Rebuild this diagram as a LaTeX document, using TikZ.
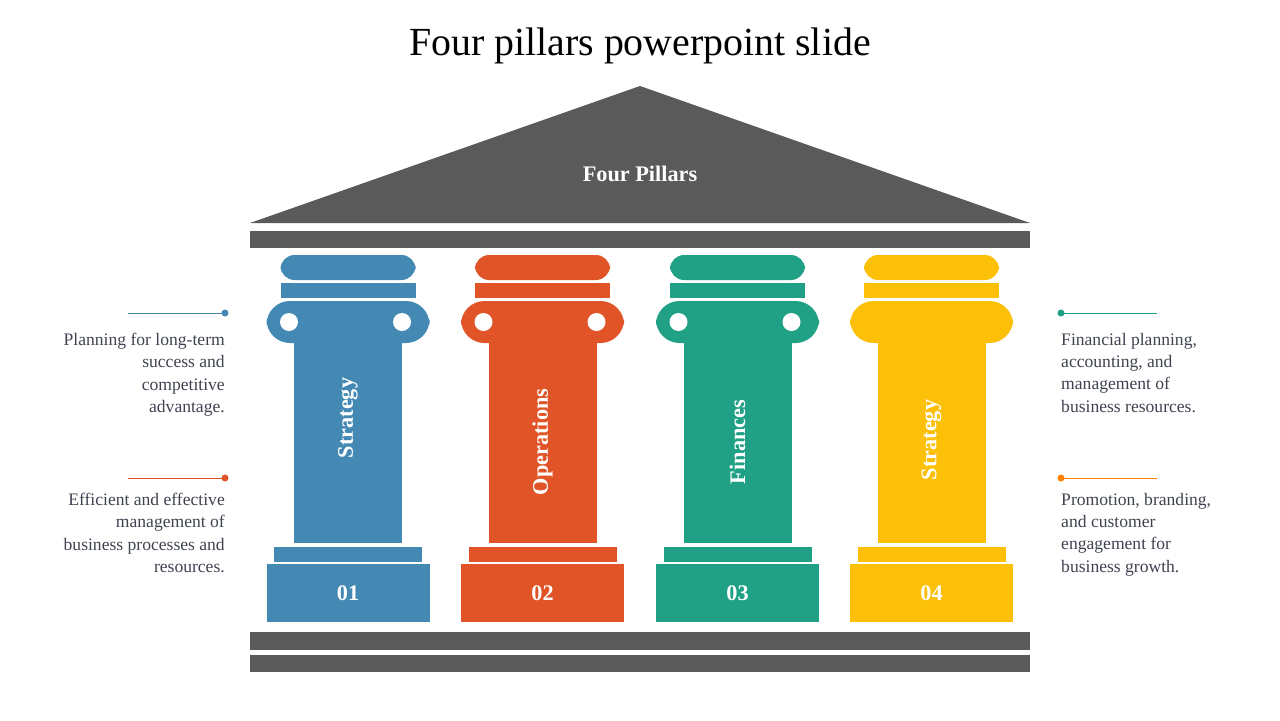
\documentclass[tikz,border=0pt]{standalone}
\usepackage{fontspec}
\setmainfont{Liberation Serif}
\definecolor{roofgray}{HTML}{5A5A5A}
\definecolor{pblue}{HTML}{4389B4}
\definecolor{porange}{HTML}{E05427}
\definecolor{pteal}{HTML}{20A185}
\definecolor{pyellow}{HTML}{FCC008}
\definecolor{txtgray}{HTML}{3F4350}
\tikzset{
    desc/.style={font=\fontsize{15}{19}\selectfont, text=txtgray, inner sep=0pt},
    plabel/.style={font=\fontsize{19}{22}\selectfont\bfseries, text=white, inner sep=0pt},
}
\begin{document}
\begin{tikzpicture}[x=0.03cm, y=-0.03cm]
    \useasboundingbox (0, 0) rectangle (1280, 720);
    \node (title) at (640, 46) {\fontsize{34}{38}\selectfont Four pillars powerpoint slide};
    % roof and beams
    \fill[roofgray] (250, 223) -- (640, 86) -- (1030, 223) -- cycle;
    \fill[roofgray] (250, 231) rectangle (1030, 248);
    \fill[roofgray] (250, 632) rectangle (1030, 650);
    \fill[roofgray] (250, 655) rectangle (1030, 672);
    \node[plabel] (roof) at (640, 174) {Four Pillars};
    % pillars
    \foreach \cx/\col/\lbl/\num/\ly/\holes in {348/pblue/Strategy/01/418/1, 542.5/porange/Operations/02/442/1, 737.5/pteal/Finances/03/442/1, 931.5/pyellow/Strategy/04/440/0} {
        \fill[\col, rounded corners=12] (\cx-67.5, 255) rectangle (\cx+67.5, 280);
        \fill[\col] (\cx-67.5, 283) rectangle (\cx+67.5, 298);
        \fill[\col, rounded corners=20] (\cx-81.5, 301) rectangle (\cx+81.5, 343);
        \fill[\col] (\cx-54, 338) rectangle (\cx+54, 543);
        \fill[\col] (\cx-74, 547) rectangle (\cx+74, 562);
        \fill[\col] (\cx-81.5, 564) rectangle (\cx+81.5, 622);
        \ifnum\holes=1
            \fill[white] (\cx-59, 322) circle (9);
            \fill[white] (\cx+54, 322) circle (9);
        \fi
        \node[plabel, rotate=90] at (\cx, \ly) {\lbl};
        \node[plabel] at (\cx, 593) {\num};
    }
    % side notes
    \draw[pblue] (128, 313) -- (225, 313);
    \fill[pblue] (225, 313) circle (3.5);
    \draw[porange] (128, 478) -- (225, 478);
    \fill[porange] (225, 478) circle (3.5);
    \draw[pteal] (1061, 313) -- (1157, 313);
    \fill[pteal] (1061, 313) circle (3.5);
    \draw[orange] (1061, 478) -- (1157, 478);
    \fill[orange] (1061, 478) circle (3.5);
    \node[desc, anchor=north east, align=right] (note1) at (225, 333) {Planning for long-term\\success and\\competitive\\advantage.};
    \node[desc, anchor=north east, align=right] (note2) at (225, 493) {Efficient and effective\\management of\\business processes and\\resources.};
    \node[desc, anchor=north west, align=left] (note3) at (1061, 333) {Financial planning,\\accounting, and\\management of\\business resources.};
    \node[desc, anchor=north west, align=left] (note4) at (1061, 493) {Promotion, branding,\\and customer\\engagement for\\business growth.};
\end{tikzpicture}
\end{document}
